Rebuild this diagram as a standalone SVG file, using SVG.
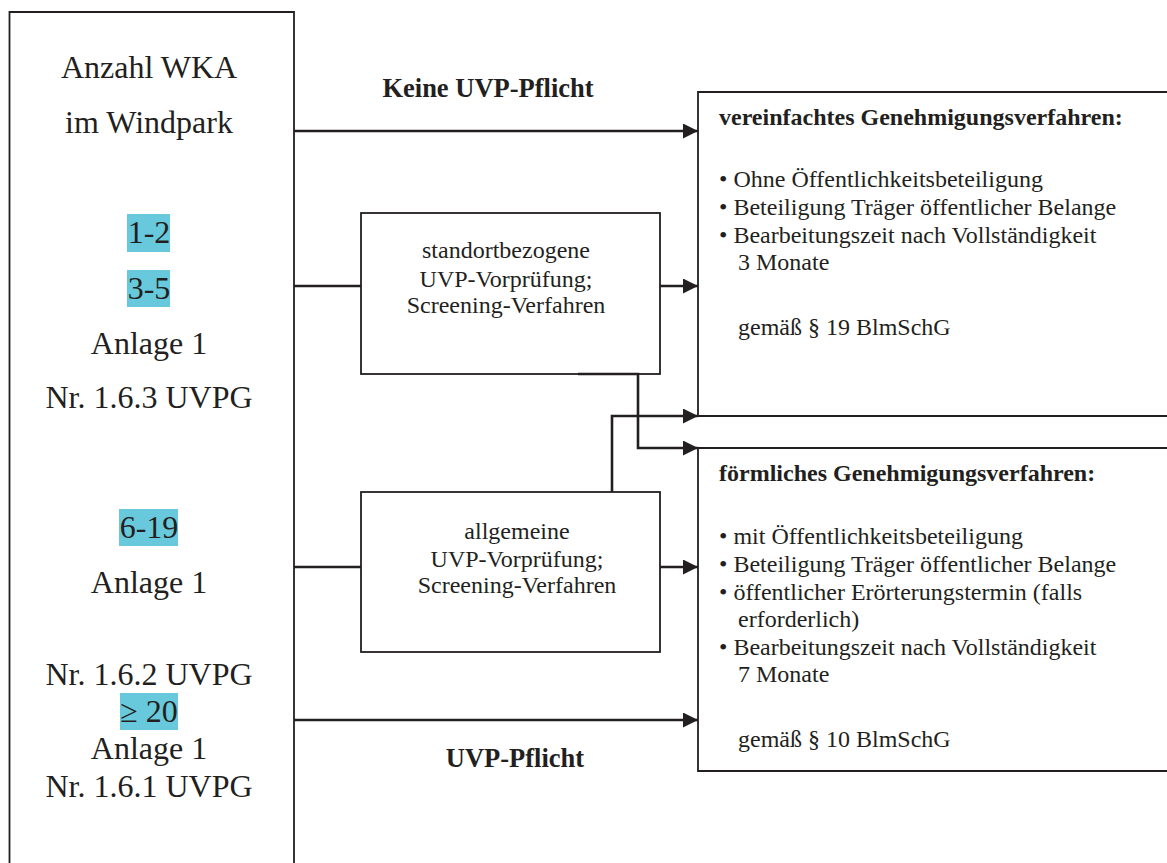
<svg xmlns="http://www.w3.org/2000/svg" width="1167" height="863" viewBox="0 0 1167 863" font-family="'Liberation Serif', Tinos, 'Times New Roman', Times, serif">
<style>
.box{fill:none;stroke:#231f20;stroke-width:1.8}
.con{fill:none;stroke:#231f20;stroke-width:2.6}
.hl{fill:#68c9dc}
text{fill:#231f20}
.big{font-size:32px;text-anchor:middle}
.mid{font-size:24px;text-anchor:middle}
.lbl{font-size:26.5px;font-weight:bold;text-anchor:middle}
.hd{font-size:24px;font-weight:bold}
.bd{font-size:24px}
</style>
<defs>
<marker id="arr" markerUnits="userSpaceOnUse" markerWidth="16" markerHeight="16" refX="15" refY="7.5" orient="auto">
<path d="M0,0 L15,7.5 L0,15 z" fill="#231f20"/>
</marker>
</defs>
<rect width="1167" height="863" fill="#ffffff"/>

<g id="windpark">
<path class="box" d="M9.5,875 V12 H294 V875"/>
<rect class="hl" x="127" y="214" width="43" height="38"/>
<rect class="hl" x="127" y="270" width="43" height="37"/>
<rect class="hl" x="119" y="509" width="59" height="37"/>
<rect class="hl" x="120" y="693" width="58" height="37"/>
<text class="big" x="149" y="78">Anzahl WKA</text>
<text class="big" x="149" y="133">im Windpark</text>
<text class="big" x="149" y="243">1-2</text>
<text class="big" x="149" y="299">3-5</text>
<text class="big" x="149" y="354">Anlage 1</text>
<text class="big" x="149" y="408">Nr. 1.6.3 UVPG</text>
<text class="big" x="149" y="538">6-19</text>
<text class="big" x="149" y="593">Anlage 1</text>
<text class="big" x="149" y="685">Nr. 1.6.2 UVPG</text>
<text class="big" x="149" y="722">≥ 20</text>
<text class="big" x="149" y="759">Anlage 1</text>
<text class="big" x="149" y="797">Nr. 1.6.1 UVPG</text>
</g>

<g id="standort">
<rect class="box" x="361" y="213" width="299" height="161"/>
<text class="mid" x="506" y="258">standortbezogene</text>
<text class="mid" x="506" y="287">UVP-Vorprüfung;</text>
<text class="mid" x="506" y="313">Screening-Verfahren</text>
</g>

<g id="allgemein">
<rect class="box" x="361" y="492" width="299" height="160"/>
<text class="mid" x="517" y="539">allgemeine</text>
<text class="mid" x="517" y="567">UVP-Vorprüfung;</text>
<text class="mid" x="517" y="593">Screening-Verfahren</text>
</g>

<g id="vereinfacht">
<path class="box" d="M1170,92 H698 V416 H1170"/>
<text class="hd" x="719" y="125">vereinfachtes Genehmigungsverfahren:</text>
<text class="bd" x="719" y="187">• Ohne Öffentlichkeitsbeteiligung</text>
<text class="bd" x="719" y="215">• Beteiligung Träger öffentlicher Belange</text>
<text class="bd" x="719" y="243">• Bearbeitungszeit nach Vollständigkeit</text>
<text class="bd" x="738" y="270">3 Monate</text>
<text class="bd" x="738" y="335">gemäß § 19 BlmSchG</text>
</g>

<g id="foermlich">
<path class="box" d="M1170,448 H698 V771 H1170"/>
<text class="hd" x="719" y="481">förmliches Genehmigungsverfahren:</text>
<text class="bd" x="719" y="544">• mit Öffentlichkeitsbeteiligung</text>
<text class="bd" x="719" y="572">• Beteiligung Träger öffentlicher Belange</text>
<text class="bd" x="719" y="600">• öffentlicher Erörterungstermin (falls</text>
<text class="bd" x="738" y="627">erforderlich)</text>
<text class="bd" x="719" y="655">• Bearbeitungszeit nach Vollständigkeit</text>
<text class="bd" x="738" y="682">7 Monate</text>
<text class="bd" x="738" y="747">gemäß § 10 BlmSchG</text>
</g>

<g id="connectors">
<path class="con" d="M294,131 H698" marker-end="url(#arr)"/>
<path class="con" d="M294,286 H361"/>
<path class="con" d="M660,286 H698" marker-end="url(#arr)"/>
<path class="con" d="M294,567 H361"/>
<path class="con" d="M660,567 H698" marker-end="url(#arr)"/>
<path class="con" d="M294,720 H698" marker-end="url(#arr)"/>
<path class="con" d="M578,374 H638 V448 H698" marker-end="url(#arr)"/>
<path class="con" d="M612,492 V416 H698" marker-end="url(#arr)"/>
<text class="lbl" x="488" y="97">Keine UVP-Pflicht</text>
<text class="lbl" x="515" y="767">UVP-Pflicht</text>
</g>
</svg>
